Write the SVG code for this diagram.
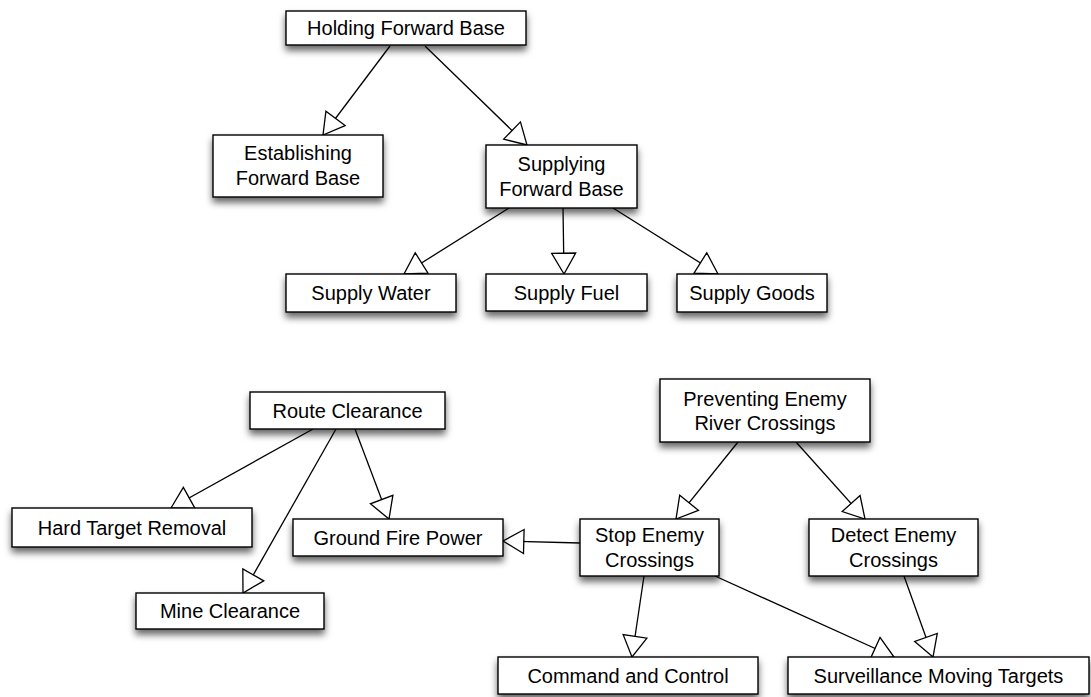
<svg xmlns="http://www.w3.org/2000/svg" width="1091" height="697" viewBox="0 0 1091 697">
  <style>
    .box rect { fill: #fff; stroke: #000; stroke-width: 1.4; filter: url(#shadow); }
    .box text { font-family: "Liberation Sans", Arial, Helvetica, sans-serif; font-size: 20px; fill: #000; text-anchor: middle; }
    .links line { stroke: #000; stroke-width: 1.3; fill: none; marker-end: url(#tri); }
  </style>
  <defs>
    <filter id="shadow" x="-10%" y="-30%" width="120%" height="190%">
      <feDropShadow dx="0" dy="5" stdDeviation="3.5" flood-color="#000" flood-opacity="0.6"/>
    </filter>
    <!-- hollow equilateral triangle, tip at the line end -->
    <marker id="tri" markerUnits="userSpaceOnUse" markerWidth="26" markerHeight="28" refX="22" refY="13" orient="auto" overflow="visible">
      <path d="M1.2,1 L22,13 L1.2,25 Z" fill="#fff" stroke="#000" stroke-width="1.3"/>
    </marker>
  </defs>
  <rect width="1091" height="697" fill="#fff"/>

  <g class="links" id="connectors">
    <line x1="390" y1="46" x2="323" y2="135"/>
    <line x1="425" y1="46" x2="527" y2="145"/>
    <line x1="509" y1="208" x2="404" y2="274"/>
    <line x1="563" y1="208" x2="564" y2="274"/>
    <line x1="613" y1="208" x2="718" y2="274"/>
    <line x1="313" y1="429" x2="171" y2="508"/>
    <line x1="336" y1="429" x2="243" y2="593"/>
    <line x1="355" y1="429" x2="389" y2="519"/>
    <line x1="738" y1="442" x2="676" y2="519"/>
    <line x1="796" y1="442" x2="865" y2="519"/>
    <line x1="580" y1="543" x2="503" y2="541"/>
    <line x1="644" y1="576" x2="632" y2="657"/>
    <line x1="715" y1="576" x2="894" y2="657"/>
    <line x1="904" y1="576" x2="933" y2="657"/>
  </g>

  <g class="box" id="holding-forward-base">
    <rect x="286" y="11" width="240" height="34"/>
    <text x="406" y="35">Holding Forward Base</text>
  </g>
  <g class="box" id="establishing-forward-base">
    <rect x="213" y="135" width="170" height="62"/>
    <text x="298" y="160">Establishing</text>
    <text x="298" y="184.5">Forward Base</text>
  </g>
  <g class="box" id="supplying-forward-base">
    <rect x="486" y="145" width="151" height="63"/>
    <text x="561.5" y="171">Supplying</text>
    <text x="561.5" y="195.5">Forward Base</text>
  </g>
  <g class="box" id="supply-water">
    <rect x="286" y="274" width="170" height="38"/>
    <text x="371" y="300">Supply Water</text>
  </g>
  <g class="box" id="supply-fuel">
    <rect x="486" y="274" width="161" height="37"/>
    <text x="566.5" y="300">Supply Fuel</text>
  </g>
  <g class="box" id="supply-goods">
    <rect x="677" y="274" width="150" height="38"/>
    <text x="752" y="300">Supply Goods</text>
  </g>
  <g class="box" id="route-clearance">
    <rect x="250" y="392" width="195" height="37"/>
    <text x="347.5" y="417.5">Route Clearance</text>
  </g>
  <g class="box" id="preventing-enemy-river-crossings">
    <rect x="660" y="379" width="210" height="63"/>
    <text x="765" y="405.5">Preventing Enemy</text>
    <text x="765" y="430">River Crossings</text>
  </g>
  <g class="box" id="hard-target-removal">
    <rect x="12" y="508" width="240" height="39"/>
    <text x="132" y="534.5">Hard Target Removal</text>
  </g>
  <g class="box" id="ground-fire-power">
    <rect x="293" y="519" width="210" height="37"/>
    <text x="398" y="544.5">Ground Fire Power</text>
  </g>
  <g class="box" id="stop-enemy-crossings">
    <rect x="580" y="519" width="139" height="57"/>
    <text x="649.5" y="542">Stop Enemy</text>
    <text x="649.5" y="566.5">Crossings</text>
  </g>
  <g class="box" id="detect-enemy-crossings">
    <rect x="809" y="519" width="169" height="57"/>
    <text x="893.5" y="542">Detect Enemy</text>
    <text x="893.5" y="566.5">Crossings</text>
  </g>
  <g class="box" id="mine-clearance">
    <rect x="136" y="593" width="188" height="36"/>
    <text x="230" y="618">Mine Clearance</text>
  </g>
  <g class="box" id="command-and-control">
    <rect x="498" y="657" width="260" height="37"/>
    <text x="628" y="682.5">Command and Control</text>
  </g>
  <g class="box" id="surveillance-moving-targets">
    <rect x="788" y="657" width="301" height="37"/>
    <text x="938.5" y="682.5">Surveillance Moving Targets</text>
  </g>
</svg>
